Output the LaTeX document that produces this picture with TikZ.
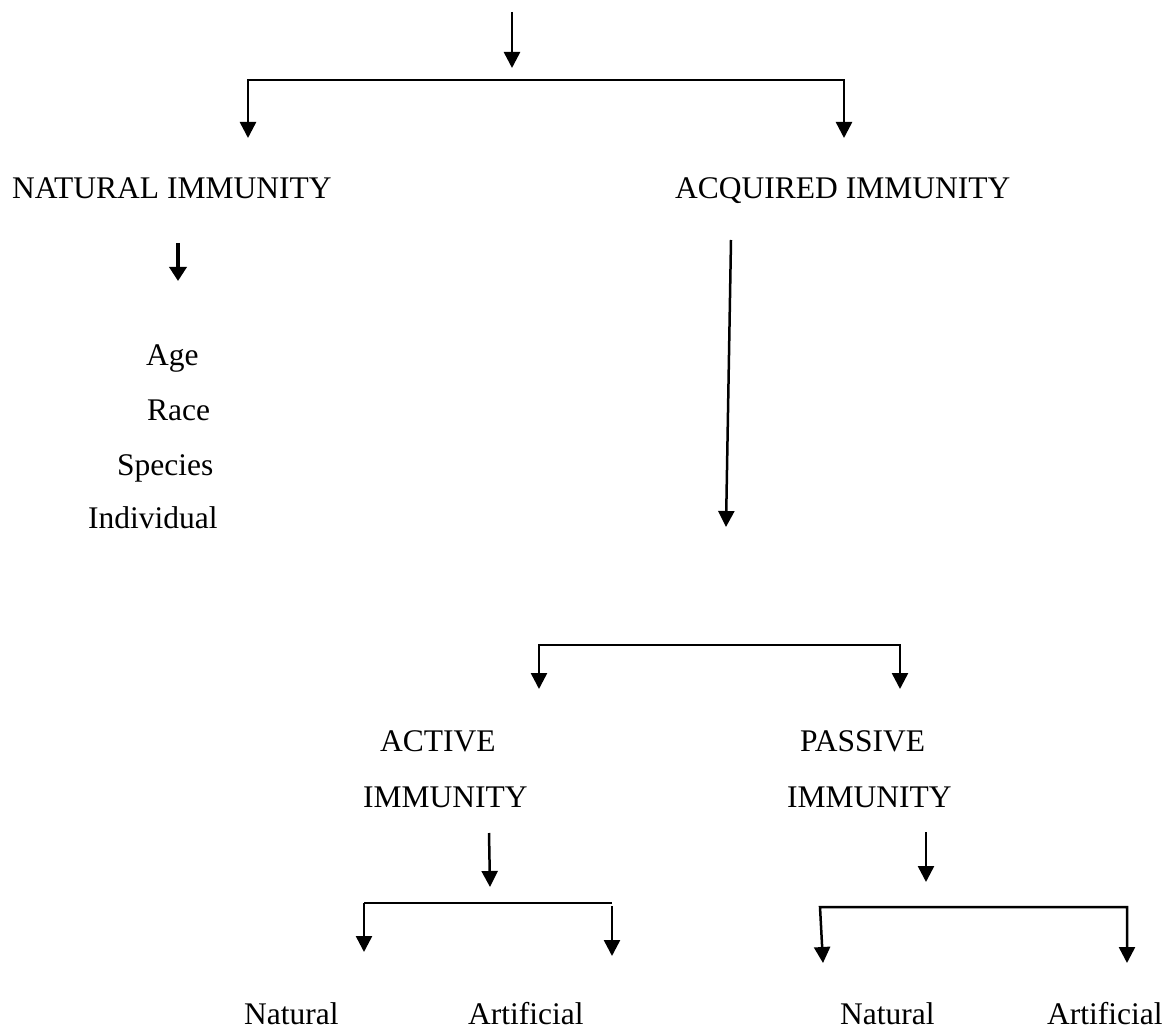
\documentclass[tikz,border=0pt]{standalone}
\usepackage{fontspec}
\setmainfont{Liberation Serif}
\usetikzlibrary{arrows.meta}
\begin{document}
\begin{tikzpicture}[x=1pt,y=-1pt,
  lbl/.style={inner sep=0pt, anchor=base west, font=\fontsize{31.5}{38}\selectfont},
  conn/.style={line width=2.5pt},
  tip/.tip={Triangle[width=16pt,length=16pt]},
  arr/.style={conn, -tip},
  arr2/.style={conn, tip-tip},
]
\useasboundingbox[fill=white] (0,0) rectangle (1173,1032);
% texts
\node[lbl] (nat) at (12,199) {NATURAL IMMUNITY};
\node[lbl] (acq) at (675,199) {ACQUIRED IMMUNITY};
\node[lbl] (age) at (146,366) {Age};
\node[lbl] (race) at (147,420) {Race};
\node[lbl] (spec) at (117,475) {Species};
\node[lbl] (indiv) at (88,528) {Individual};
\node[lbl] (act) at (380,751) {ACTIVE};
\node[lbl] (actb) at (363,807) {IMMUNITY};
\node[lbl] (pas) at (800,751) {PASSIVE};
\node[lbl] (pasb) at (787,807) {IMMUNITY};
\node[lbl] (an) at (244,1024) {Natural};
\node[lbl] (aa) at (468,1024) {Artificial};
\node[lbl] (pn) at (840,1024) {Natural};
\node[lbl] (pa) at (1047,1024) {Artificial};
% coordinates
\coordinate (t0) at (512,12);
\coordinate (t1) at (512,68);
\coordinate (b1a) at (248,138);
\coordinate (b1b) at (248,80);
\coordinate (b1c) at (844,80);
\coordinate (b1d) at (844,138);
\coordinate (n0) at (178,243);
\coordinate (n1) at (178,281);
\coordinate (q0) at (731,240);
\coordinate (q1) at (726,527);
\coordinate (b2a) at (539,689);
\coordinate (b2b) at (539,645);
\coordinate (b2c) at (900,645);
\coordinate (b2d) at (900,689);
\coordinate (a0) at (489,833);
\coordinate (a1) at (490,887);
\coordinate (p0) at (926,832);
\coordinate (p1) at (926,882);
\coordinate (b3a) at (364,952);
\coordinate (b3b) at (364,903);
\coordinate (b3c) at (612,903);
\coordinate (b3e) at (612,906);
\coordinate (b3d) at (612,956);
\coordinate (b4a) at (823,963);
\coordinate (b4b) at (820,907);
\coordinate (b4c) at (1127,907);
\coordinate (b4d) at (1127,963);
% connectors
\draw[arr] (t0) -- (t1);
\draw[arr2] (b1a) -- (b1b) -- (b1c) -- (b1d);
\draw[line width=3.5pt, -{Triangle[width=17pt,length=14pt]}] (n0) -- (n1);
\draw[arr] (q0) -- (q1);
\draw[arr2] (b2a) -- (b2b) -- (b2c) -- (b2d);
\draw[arr] (a0) -- (a1);
\draw[arr] (p0) -- (p1);
\draw[arr] (b3b) -- (b3a);
\draw[conn] (b3b) -- (b3c);
\draw[arr] (b3e) -- (b3d);
\draw[arr2] (b4a) -- (b4b) -- (b4c) -- (b4d);
\end{tikzpicture}
\end{document}
